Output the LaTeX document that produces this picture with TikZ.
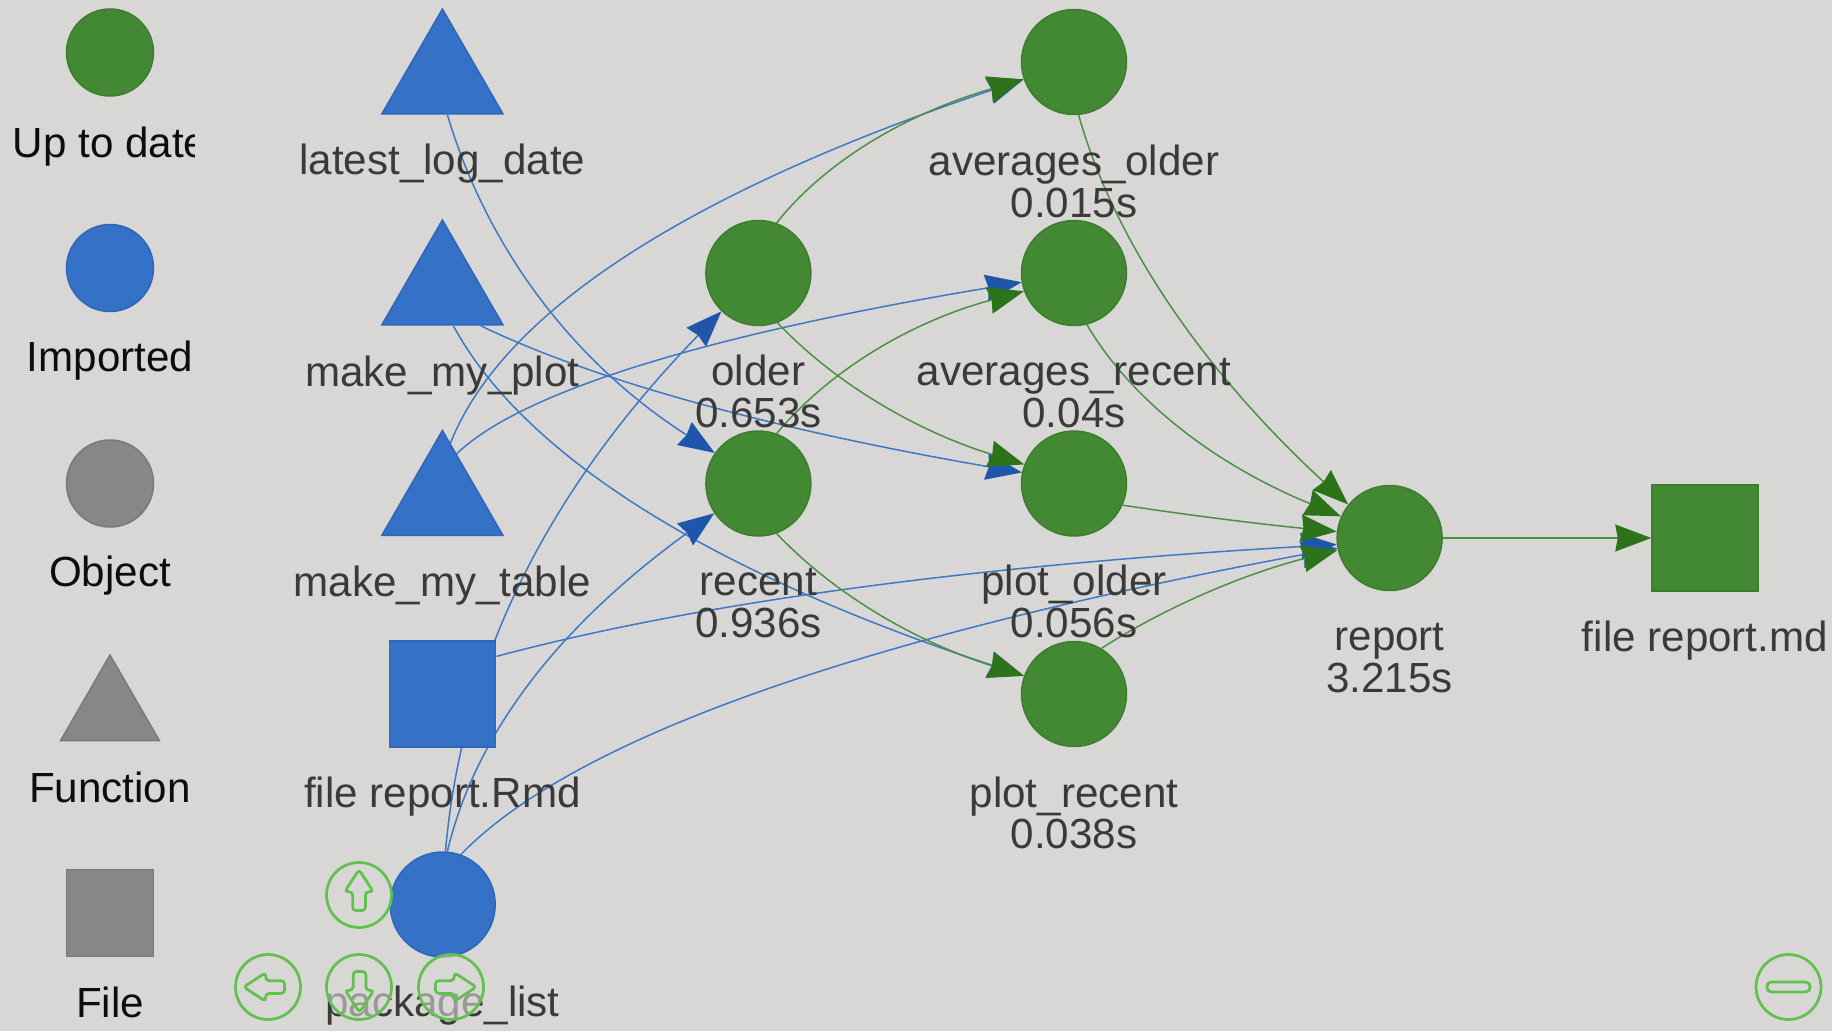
\documentclass[tikz,border=0pt]{standalone}
\usepackage{fontspec}
\setmainfont{Liberation Sans}
\usetikzlibrary{shapes.geometric}
\usetikzlibrary{shapes.arrows}
\usetikzlibrary{arrows.meta}
\usetikzlibrary{backgrounds}
\definecolor{bggray}{HTML}{D8D7D5}
\definecolor{okgreen}{HTML}{438833}
\definecolor{okline}{HTML}{3C7D2E}
\definecolor{okedge}{HTML}{4F8F45}
\definecolor{oktip}{HTML}{2D731A}
\definecolor{impblue}{HTML}{3571C6}
\definecolor{impline}{HTML}{2F66B8}
\definecolor{impedge}{HTML}{3F78C6}
\definecolor{imptip}{HTML}{1F55AA}
\definecolor{objgray}{HTML}{878787}
\definecolor{navgreen}{HTML}{62C14E}
\definecolor{labelgray}{HTML}{3A3A3A}
\tikzset{
	dot/.style={draw,circle,line width=0.03cm,inner sep=0,minimum size=2.1cm},
	tri/.style={draw,regular polygon,regular polygon sides=3,line width=0.03cm,inner sep=0,minimum size=2.8cm},
	sq/.style={draw,rectangle,line width=0.03cm,inner sep=0,minimum size=2.12cm},
	legdot/.style={dot,minimum size=1.74cm},
	legtri/.style={tri,minimum size=2.28cm},
	legsq/.style={sq,minimum size=1.74cm},
	uptodate/.style={draw=okline,fill=okgreen},
	imported/.style={draw=impline,fill=impblue},
	neutral/.style={draw=objgray!90!black,fill=objgray},
	nodetext/.style={anchor=base,align=center,text=labelgray,font=\fontsize{24}{23.6}\selectfont},
	legtext/.style={nodetext,text=black!95},
	okarrow/.style={->,draw=okedge,line width=0.03cm,>={Stealth[length=0.72cm,width=0.54cm,inset=0.05cm,color=oktip]}},
	imparrow/.style={->,draw=impedge,line width=0.03cm,>={Stealth[length=0.72cm,width=0.54cm,inset=0.05cm,color=imptip]}},
	navbutton/.style={draw=navgreen,circle,line width=0.055cm,fill=bggray,fill opacity=0.6,inner sep=0,minimum size=1.3cm},
	navarrow/.style={draw=navgreen,single arrow,line width=0.055cm,rounded corners=2pt,inner xsep=0,inner ysep=0.1cm,minimum width=0.52cm,minimum height=0.82cm,single arrow head extend=0.16cm,single arrow tip angle=66}
}
\begin{document}
\begin{tikzpicture}[x=0.02cm,y=-0.02cm]
		\useasboundingbox (0,0) rectangle (1832,1031);
		% draw background
		\begin{scope}[on background layer]
		\fill[bggray] (0,0) rectangle (1832,1031);
		\end{scope}
		
		% draw legend
		\node (LG1) at (110,52.5) [legdot,uptodate] {};
		\node (LG2) at (110,268) [legdot,imported] {};
		\node (LG3) at (110,483.5) [legdot,neutral] {};
		\node (LG4) at (110,712) [legtri,neutral] {};
		\node (LG5) at (110,913) [legsq,neutral] {};
		
		% draw legend text, the first one is cut off
		\begin{scope}
		\clip (0,0) rectangle (194,1031);
		\node (LT1) at (110,157.5) [legtext] {Up to date};
		\end{scope}
		\node (LT2) at (110,371.5) [legtext] {Imported};
		\node (LT3) at (110,586.5) [legtext] {Object};
		\node (LT4) at (110,802) [legtext] {Function};
		\node (LT5) at (110,1017.5) [legtext] {File};
		
		% draw imports
		\node (LLD) at (442.4,79) [tri,imported] {};
		\node (MP) at (442.4,290) [tri,imported] {};
		\node (MT) at (442.4,500.5) [tri,imported] {};
		\node (FR) at (442.7,694) [sq,imported] {};
		\node (PL) at (442.7,904.5) [dot,imported] {};
		
		% draw targets
		\node (OL) at (758.4,273) [dot,uptodate] {};
		\node (RC) at (758.4,483.5) [dot,uptodate] {};
		\node (AO) at (1074,62) [dot,uptodate] {};
		\node (AR) at (1074,273) [dot,uptodate] {};
		\node (PO) at (1074,483.5) [dot,uptodate] {};
		\node (PR) at (1074,694) [dot,uptodate] {};
		\node (RP) at (1389.6,538) [dot,uptodate] {};
		\node (FM) at (1705,538) [sq,uptodate] {};
		
		% draw node text
		\node (TLLD) at (442.4,174) [nodetext] {latest\_log\_date};
		\node (TMP) at (442.4,386) [nodetext] {make\_my\_plot};
		\node (TMT) at (442.4,596) [nodetext] {make\_my\_table};
		\node (TFR) at (442.4,807) [nodetext] {file report.Rmd};
		\node (TPL) at (442.4,1016) [nodetext] {package\_list};
		\node (TOL) at (758.4,427) [nodetext] {older\\0.653s};
		\node (TRC) at (758.4,637) [nodetext] {recent\\0.936s};
		\node (TAO) at (1074,217) [nodetext] {averages\_older\\0.015s};
		\node (TAR) at (1074,427) [nodetext] {averages\_recent\\0.04s};
		\node (TPO) at (1074,637) [nodetext] {plot\_older\\0.056s};
		\node (TPR) at (1074,848.5) [nodetext] {plot\_recent\\0.038s};
		\node (TRP) at (1389.6,692) [nodetext] {report\\3.215s};
		\node (TFM) at (1705,651) [nodetext] {file report.md};
		
		\begin{scope}[on background layer]
		% draw lines from imports to targets
		\draw[imparrow] (LLD.-82.5) .. controls (488,251.9) and (576.9,364.8) .. (RC.145.5);
		\draw[imparrow] (MP.-73.4) .. controls (524.3,457) and (714,573.7) .. (PR.160);
		\draw[imparrow] (MP.-43) .. controls (593.3,380.3) and (773.6,429.7) .. (PO.168.9);
		\draw[imparrow] (MT.82.3) .. controls (503.7,309) and (694.2,190) .. (AO.199.3);
		\draw[imparrow] (MT.73.2) .. controls (522.3,390.7) and (710.2,334.2) .. (AR.190.3);
		\draw[imparrow] (FR.35) .. controls (698.7,602.2) and (979,565) .. (RP.187.6);
		\draw[imparrow] (PL.87.5) .. controls (462,660) and (548,490) .. (OL.226.5);
		\draw[imparrow] (PL.85.3) .. controls (480,715) and (581,610) .. (RC.214.8);
		\draw[imparrow] (PL.70.7) .. controls (573.6,737.7) and (865.7,636.3) .. (RP.191.8);
		
		% draw lines between targets
		\draw[okarrow] (OL.70) .. controls (825.7,160.7) and (907.5,113.3) .. (AO.199.3);
		\draw[okarrow] (OL.-69.5) .. controls (835.7,384.2) and (917.9,431.7) .. (PO.159.8);
		\draw[okarrow] (RC.70.8) .. controls (832,367.7) and (914.5,320.6) .. (AR.200.4);
		\draw[okarrow] (RC.-70.8) .. controls (835.3,595.3) and (917.3,642.3) .. (PR.160);
		\draw[okarrow] (AO.-85.7) .. controls (1114.4,242.3) and (1204.4,372.1) .. (RP.141.2);
		\draw[okarrow] (AR.-76.2) .. controls (1132.3,401.7) and (1216.7,465.3) .. (RP.156);
		\draw[okarrow] (PO.-24.7) .. controls (1194.3,516) and (1265.3,524.7) .. (RP.173.6);
		\draw[okarrow] (PR.59.7) .. controls (1166.9,606.2) and (1246,573.3) .. (RP.193.1);
		\draw[okarrow] (RP) to (FM);
		\end{scope}
		
		% draw navigation buttons
		\node (BU) at (359,895) [navbutton] {};
		\node (BL) at (268,987) [navbutton] {};
		\node (BD) at (359,987) [navbutton] {};
		\node (BR) at (451,987) [navbutton] {};
		\node (BM) at (1788.5,987) [navbutton] {};
		\node (AU) at (359,895) [navarrow,rotate=90] {};
		\node (AL) at (269,987) [navarrow,rotate=180] {};
		\node (AD) at (359.5,987) [navarrow,rotate=-90] {};
		\node (AG) at (451,987) [navarrow] {};
		\node (AM) at (1788.5,987) [draw=navgreen,rectangle,rounded corners=2.5pt,line width=0.055cm,minimum width=0.86cm,minimum height=0.2cm,inner sep=0] {};
\end{tikzpicture}
\end{document}
